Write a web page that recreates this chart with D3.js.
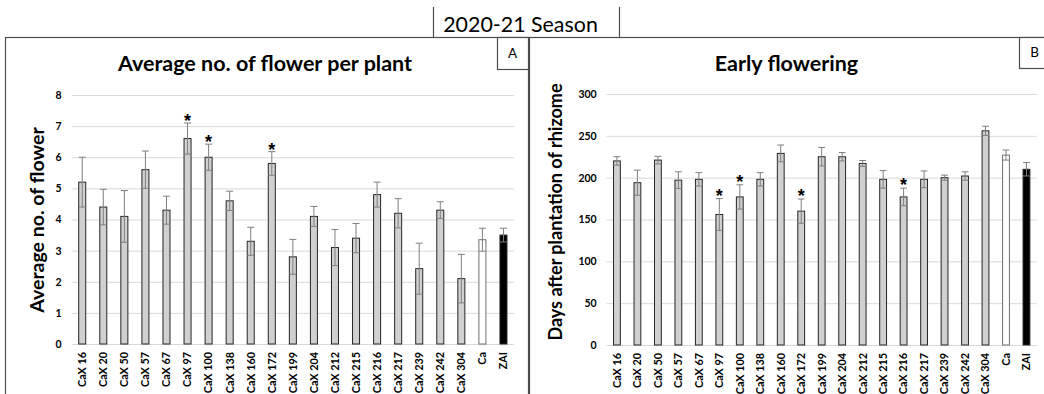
<!DOCTYPE html>
<html>
<head>
<meta charset="utf-8">
<script src="https://cdn.jsdelivr.net/npm/d3@7"></script>
<style>
  html, body { margin: 0; padding: 0; background: #fff; }
  svg { display: block; }
  text { font-family: Lato, "Open Sans", "Liberation Sans", sans-serif; fill: #000; }
</style>
</head>
<body>
<svg id="chart" width="1044" height="394"></svg>
<script>
// Genotypes shown on both panels
const genotypes = ["CaX 16", "CaX 20", "CaX 50", "CaX 57", "CaX 67", "CaX 97", "CaX 100",
  "CaX 138", "CaX 160", "CaX 172", "CaX 199", "CaX 204", "CaX 212", "CaX 215", "CaX 216",
  "CaX 217", "CaX 239", "CaX 242", "CaX 304", "Ca", "ZAI"];

// Panel A: average number of flowers per plant (mean and error)
const flowerMeans  = [5.2, 4.4, 4.1, 5.6, 4.3, 6.6, 6.0, 4.6, 3.3, 5.8, 2.8, 4.1, 3.1, 3.4, 4.8, 4.2, 2.42, 4.3, 2.1, 3.35, 3.5];
const flowerErrors = [0.8, 0.57, 0.83, 0.6, 0.45, 0.5, 0.42, 0.31, 0.45, 0.38, 0.56, 0.32, 0.58, 0.47, 0.4, 0.47, 0.82, 0.27, 0.78, 0.37, 0.22];
const flowerStars  = ["CaX 97", "CaX 100", "CaX 172"];
const flowerTicks  = [0, 1, 2, 3, 4, 5, 6, 7, 8];

// Panel B: days after plantation of rhizome to first flowering
const earlyMeans  = [220, 194, 221, 197, 198, 156, 177, 198, 229, 160, 225, 225, 217, 198, 177, 198, 200, 202, 256, 227, 210];
const earlyErrors = [5, 15, 4.5, 10, 8, 19, 14.5, 8, 10, 14.5, 11, 5, 3.5, 10.5, 10.5, 10, 3, 5, 5.5, 6, 8];
const earlyStars  = ["CaX 97", "CaX 100", "CaX 172", "CaX 216"];
const earlyTicks  = [0, 50, 100, 150, 200, 250, 300];

const svg = d3.select("#chart");

function barFill(g) { return g === "ZAI" ? "#000000" : (g === "Ca" ? "#ffffff" : "#d0d0d0"); }
function barStroke(g) { return g === "Ca" ? "#6f6f6f" : "#262626"; }

function drawPanel(cfg) {
  const { frame, letterBox, plot, means, errors, stars, ticks, domainMax, title, yTitle, starGap } = cfg;

  // outer panel frame
  svg.append("rect")
    .attr("x", frame.x + 0.5).attr("y", frame.y + 0.5)
    .attr("width", frame.w).attr("height", frame.h)
    .attr("fill", "none").attr("stroke", "#4d4d4d").attr("stroke-width", 1.2);

  // panel letter box
  svg.append("rect")
    .attr("x", letterBox.x + 0.5).attr("y", letterBox.y + 0.5)
    .attr("width", letterBox.w).attr("height", letterBox.h)
    .attr("fill", "#fff").attr("stroke", "#4d4d4d").attr("stroke-width", 1.2);
  svg.append("text")
    .attr("x", letterBox.x + letterBox.w / 2).attr("y", letterBox.y + letterBox.h / 2)
    .attr("dy", "0.36em").attr("text-anchor", "middle")
    .style("font-size", "13.5px").text(letterBox.label);

  const x = d3.scaleBand().domain(genotypes)
    .range([plot.left, plot.right]).paddingInner(2 / 3).paddingOuter(1 / 3);
  const y = d3.scaleLinear().domain([0, domainMax]).range([plot.bottom, plot.top]);

  // horizontal gridlines and value labels
  const yAxis = svg.append("g")
    .attr("transform", `translate(${plot.left},0)`)
    .call(d3.axisLeft(y).tickValues(ticks).tickSize(-(plot.right - plot.left)).tickPadding(10));
  yAxis.select(".domain").remove();
  yAxis.selectAll(".tick line").attr("stroke", "#d9d9d9").attr("stroke-width", 1);
  yAxis.selectAll(".tick text")
    .style("font-size", "10.5px").style("font-weight", "700").attr("fill", "#000");

  // category labels, rotated
  const xAxis = svg.append("g")
    .attr("transform", `translate(0,${plot.bottom})`)
    .call(d3.axisBottom(x).tickSize(0));
  xAxis.select(".domain").remove();
  xAxis.selectAll(".tick text")
    .attr("transform", "rotate(-90)")
    .attr("text-anchor", "end")
    .attr("x", -8).attr("y", 0).attr("dy", "0.36em")
    .style("font-size", "10.8px").style("font-weight", "700").attr("fill", "#000");

  const rows = genotypes.map((g, i) => ({ g, v: means[i], e: errors[i] }));

  // bars
  svg.append("g").selectAll("rect").data(rows).join("rect")
    .attr("x", d => x(d.g)).attr("width", x.bandwidth())
    .attr("y", d => y(d.v)).attr("height", d => y(0) - y(d.v))
    .attr("fill", d => barFill(d.g)).attr("stroke", d => barStroke(d.g)).attr("stroke-width", 1);

  // error bars
  const eb = svg.append("g").attr("stroke", "#7f7f7f").attr("stroke-width", 1).attr("fill", "none");
  const cx = d => x(d.g) + x.bandwidth() / 2;
  eb.selectAll("line.stem").data(rows).join("line").attr("class", "stem")
    .attr("x1", cx).attr("x2", cx)
    .attr("y1", d => y(d.v - d.e)).attr("y2", d => y(d.v + d.e));
  eb.selectAll("line.capTop").data(rows).join("line").attr("class", "capTop")
    .attr("x1", d => x(d.g)).attr("x2", d => x(d.g) + x.bandwidth())
    .attr("y1", d => y(d.v + d.e)).attr("y2", d => y(d.v + d.e));
  eb.selectAll("line.capBot").data(rows).join("line").attr("class", "capBot")
    .attr("x1", d => x(d.g)).attr("x2", d => x(d.g) + x.bandwidth())
    .attr("y1", d => y(d.v - d.e)).attr("y2", d => y(d.v - d.e));

  // significance marks
  svg.append("g").selectAll("text").data(rows.filter(d => stars.includes(d.g))).join("text")
    .attr("x", cx).attr("y", d => y(d.v + d.e) + starGap)
    .attr("text-anchor", "middle")
    .style("font-family", "'Liberation Sans', Arial, sans-serif")
    .style("font-size", "18px").style("font-weight", "700")
    .text("*");

  // chart title
  svg.append("text")
    .attr("x", title.x).attr("y", title.y).attr("text-anchor", "middle")
    .style("font-size", "21.5px").style("font-weight", "700").text(title.text);

  // y axis title
  svg.append("text")
    .attr("transform", `translate(${yTitle.x},${yTitle.y}) rotate(-90)`)
    .attr("text-anchor", "middle").attr("dy", "0.36em")
    .style("font-size", yTitle.size).style("font-weight", "700").text(yTitle.text);
}

drawPanel({
  frame: { x: 5, y: 37, w: 523, h: 380 },
  letterBox: { x: 497, y: 37, w: 31, h: 32, label: "A" },
  plot: { left: 71.7, right: 514, top: 95, bottom: 344 },
  means: flowerMeans, errors: flowerErrors, stars: flowerStars,
  ticks: flowerTicks, domainMax: 8, starGap: 4,
  title: { x: 265, y: 71, text: "Average no. of flower per plant" },
  yTitle: { x: 37, y: 220, text: "Average no. of flower", size: "19.5px" }
});

drawPanel({
  frame: { x: 529, y: 37, w: 520, h: 380 },
  letterBox: { x: 1019, y: 37, w: 31, h: 31, label: "B" },
  plot: { left: 606.7, right: 1036.7, top: 94, bottom: 345 },
  means: earlyMeans, errors: earlyErrors, stars: earlyStars,
  ticks: earlyTicks, domainMax: 300, starGap: 3,
  title: { x: 786.5, y: 71, text: "Early flowering" },
  yTitle: { x: 556, y: 212, text: "Days after plantation of rhizome", size: "18px" }
});

// season header between the panels
svg.append("line").attr("x1", 433.5).attr("x2", 433.5).attr("y1", 7).attr("y2", 37)
  .attr("stroke", "#4d4d4d").attr("stroke-width", 1.2);
svg.append("line").attr("x1", 619.5).attr("x2", 619.5).attr("y1", 7).attr("y2", 37)
  .attr("stroke", "#4d4d4d").attr("stroke-width", 1.2);
svg.append("text").attr("x", 520.5).attr("y", 32).attr("text-anchor", "middle")
  .style("font-size", "21.4px").text("2020-21 Season");
</script>
</body>
</html>
